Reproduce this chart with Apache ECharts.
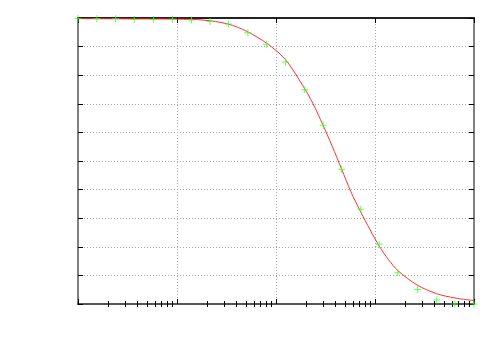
<!DOCTYPE html>
<html>
<head>
<meta charset="utf-8">
<script src="https://cdn.jsdelivr.net/npm/echarts@6/dist/echarts.min.js"></script>
<style>html,body{margin:0;padding:0;background:#fff}#c{width:500px;height:350px}</style>
</head>
<body>
<div id="c"></div>
<script>
// measured data points (green +)
var dataX = [1, 1.55, 2.4, 3.7, 5.8, 9, 14, 21.5, 33, 52, 80, 125, 195, 300, 460, 720, 1100, 1700, 2700, 4200, 6400, 10000];
var dataY = [0.997, 0.997, 0.997, 0.995, 0.995, 0.996, 0.993, 0.988, 0.979, 0.948, 0.908, 0.846, 0.749, 0.625, 0.471, 0.331, 0.209, 0.109, 0.051, 0.014, 0.0, 0.0];
// fitted curve (red line), samples
var fitX = [1, 3.2, 10, 18.3, 32.7, 51, 81, 123, 187, 237, 296, 368, 461, 570, 717, 890, 1105, 1370, 1700, 2675, 4200, 6430, 10000];
var fitY = [0.998, 0.997, 0.996, 0.993, 0.979, 0.953, 0.911, 0.857, 0.763, 0.700, 0.628, 0.553, 0.471, 0.393, 0.322, 0.260, 0.202, 0.155, 0.117, 0.066, 0.036, 0.021, 0.012];
// axis ticks
var xMajorTicks = [1, 10, 100, 1000, 10000];
var xMinorTickLabels = [2,3,4,5,6,7,8,9, 20,30,40,50,60,70,80,90, 200,300,400,500,600,700,800,900, 2000,3000,4000,5000,6000,7000,8000,9000];
var yTicks = [0, 0.1, 0.2, 0.3, 0.4, 0.5, 0.6, 0.7, 0.8, 0.9, 1.0];

var minorLog = xMinorTickLabels.map(function (v) { return Math.log10(v); });
var pts = dataX.map(function (x, i) { return [x, dataY[i]]; });
var fit = fitX.map(function (x, i) { return [x, fitY[i]]; });

var chart = echarts.init(document.getElementById('c'), null, {renderer: 'canvas'});
var gridLine = {show: true, lineStyle: {color: '#a8a8a8', type: [1, 2], width: 1}};
function logAxis(pos, lineColor, split) {
  return {
    type: 'log', logBase: 10, min: 1, max: 10000, position: pos,
    axisLine: {show: true, onZero: false, lineStyle: {color: lineColor, width: 2}},
    axisTick: {show: true, inside: true, length: 5, lineStyle: {color: '#000', width: 1}},
    axisLabel: {show: false},
    splitLine: split ? gridLine : {show: false},
    minorTick: {show: false}
  };
}
function minorAxis(pos) {
  return {
    type: 'value', min: 0, max: 4, position: pos,
    axisLine: {show: false},
    axisTick: {show: true, inside: true, length: 3, customValues: minorLog, lineStyle: {color: '#000', width: 1}},
    axisLabel: {show: false},
    splitLine: {show: false}
  };
}
function yAx(pos, split) {
  return {
    type: 'value', min: 0, max: 1, interval: 0.1, position: pos,
    axisLine: {show: true, onZero: false, lineStyle: {color: '#808080', width: 2}},
    axisTick: {show: true, inside: true, length: 5, lineStyle: {color: '#000', width: 1}},
    axisLabel: {show: false},
    splitLine: split ? gridLine : {show: false}
  };
}
chart.setOption({
  animation: false,
  backgroundColor: '#fff',
  grid: {left: 78, top: 18, right: 26, bottom: 46},
  xAxis: [logAxis('bottom', '#555', true), logAxis('top', '#222', false), minorAxis('bottom'), minorAxis('top')],
  yAxis: [yAx('left', true), yAx('right', false)],
  series: [
    {
      type: 'line', xAxisIndex: 0, yAxisIndex: 0, data: fit, smooth: 0.3,
      showSymbol: false, symbol: 'none',
      lineStyle: {color: '#ff3030', width: 1}, z: 2
    },
    {
      type: 'scatter', xAxisIndex: 0, yAxisIndex: 0, data: pts,
      symbol: 'path://M-1,-7h2v14h-2z M-7,-1h14v2h-14z', symbolSize: 7,
      itemStyle: {color: '#33ff33'}, z: 3
    }
  ]
});
</script>
</body>
</html>
